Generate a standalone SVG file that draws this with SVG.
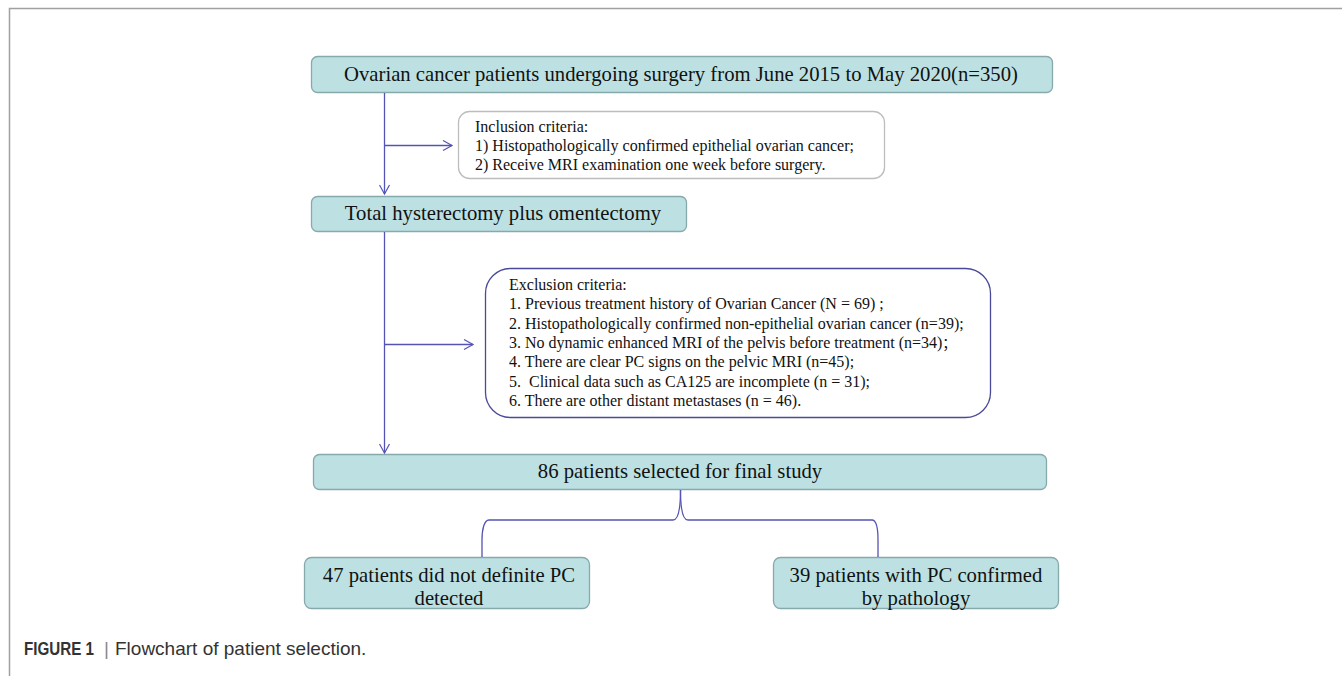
<svg xmlns="http://www.w3.org/2000/svg" width="1342" height="676" viewBox="0 0 1342 676">
<style>
.box{fill:#bde1e3;stroke:#86a9ab;stroke-width:1.3}
.t{font-family:"Liberation Serif","Times New Roman",serif;fill:#111}
.big{font-size:20.7px}
.sm{font-size:16px}
.conn{fill:none;stroke:#5454b4;stroke-width:1.3}
.cap{font-family:"Liberation Sans",Arial,sans-serif;font-size:19px;fill:#333}
</style>
<defs>
<marker id="ah" markerWidth="12" markerHeight="12" refX="10" refY="6" orient="auto" markerUnits="userSpaceOnUse">
<path d="M1,1 L10,6 L1,11" fill="none" stroke="#5454b4" stroke-width="1.2"/>
</marker>
</defs>
<rect width="1342" height="676" fill="#fff"/>
<path d="M9.5,676 V8.5 H1342" fill="none" stroke="#a0a0a0" stroke-width="1.5"/>

<g id="n1">
<rect class="box" x="311.5" y="56.5" width="741" height="36" rx="6"/>
<text class="t big" x="681" y="81" text-anchor="middle" font-size="21.2">Ovarian cancer patients undergoing surgery from June 2015 to May 2020(n=350)</text>
</g>
<g id="inclusion">
<rect x="458.5" y="111.5" width="426" height="67" rx="11" fill="#fff" stroke="#bdbdbd" stroke-width="1.3"/>
<text class="t sm" x="475" y="132">Inclusion criteria:</text>
<text class="t sm" x="475" y="151">1) Histopathologically confirmed epithelial ovarian cancer;</text>
<text class="t sm" x="475" y="170">2) Receive MRI examination one week before surgery.</text>
</g>
<g id="n2">
<rect class="box" x="311.5" y="196.5" width="375" height="35" rx="6"/>
<text class="t big" x="503" y="220" text-anchor="middle">Total hysterectomy plus omentectomy</text>
</g>
<g id="exclusion">
<rect x="485.5" y="268.5" width="505" height="149" rx="25" fill="#fff" stroke="#4a4a9a" stroke-width="1.3"/>
<text class="t sm" x="509" y="290">Exclusion criteria:</text>
<text class="t sm" x="509" y="309">1. Previous treatment history of Ovarian Cancer (N = 69) ;</text>
<text class="t sm" x="509" y="329">2. Histopathologically confirmed non-epithelial ovarian cancer (n=39);</text>
<text class="t sm" x="509" y="348">3. No dynamic enhanced MRI of the pelvis before treatment (n=34)<tspan font-family="'Noto Sans CJK SC',sans-serif" font-size="14">；</tspan></text>
<text class="t sm" x="509" y="367">4. There are clear PC signs on the pelvic MRI (n=45);</text>
<text class="t sm" x="509" y="387">5.&#160; Clinical data such as CA125 are incomplete (n = 31);</text>
<text class="t sm" x="509" y="406">6. There are other distant metastases (n = 46).</text>
</g>
<g id="n3">
<rect class="box" x="313.5" y="454.5" width="733" height="35" rx="6"/>
<text class="t big" x="680" y="478" text-anchor="middle">86 patients selected for final study</text>
</g>
<g id="n4">
<rect class="box" x="304.5" y="557.5" width="285" height="51" rx="7"/>
<text class="t big" x="449" y="582" text-anchor="middle">47 patients did not definite PC</text>
<text class="t big" x="449" y="605" text-anchor="middle">detected</text>
</g>
<g id="n5">
<rect class="box" x="773.5" y="557.5" width="285" height="51" rx="7"/>
<text class="t big" x="916" y="582" text-anchor="middle">39 patients with PC confirmed</text>
<text class="t big" x="916" y="605" text-anchor="middle">by pathology</text>
</g>

<g id="connectors">
<path class="conn" d="M384.5,93 V194" marker-end="url(#ah)"/>
<path class="conn" d="M384.5,145.5 H452" marker-end="url(#ah)"/>
<path class="conn" d="M384.5,232 V453" marker-end="url(#ah)"/>
<path class="conn" d="M384.5,344.5 H473" marker-end="url(#ah)"/>
<path class="conn" d="M680.5,490 C680.5,505 679,520 673,520 H489 C484,520 482,530 482,540 V557"/>
<path class="conn" d="M680.5,490 C680.5,505 682,520 688,520 H872 C877,520 878,530 878,540 V557"/>
</g>

<g id="caption">
<text class="cap" transform="translate(24,655) scale(0.8,1)" font-weight="bold" font-size="18.5">FIGURE 1</text>
<text class="cap" y="655"><tspan x="104" fill="#888">|</tspan><tspan x="115">Flowchart of patient selection.</tspan></text>
</g>
</svg>
